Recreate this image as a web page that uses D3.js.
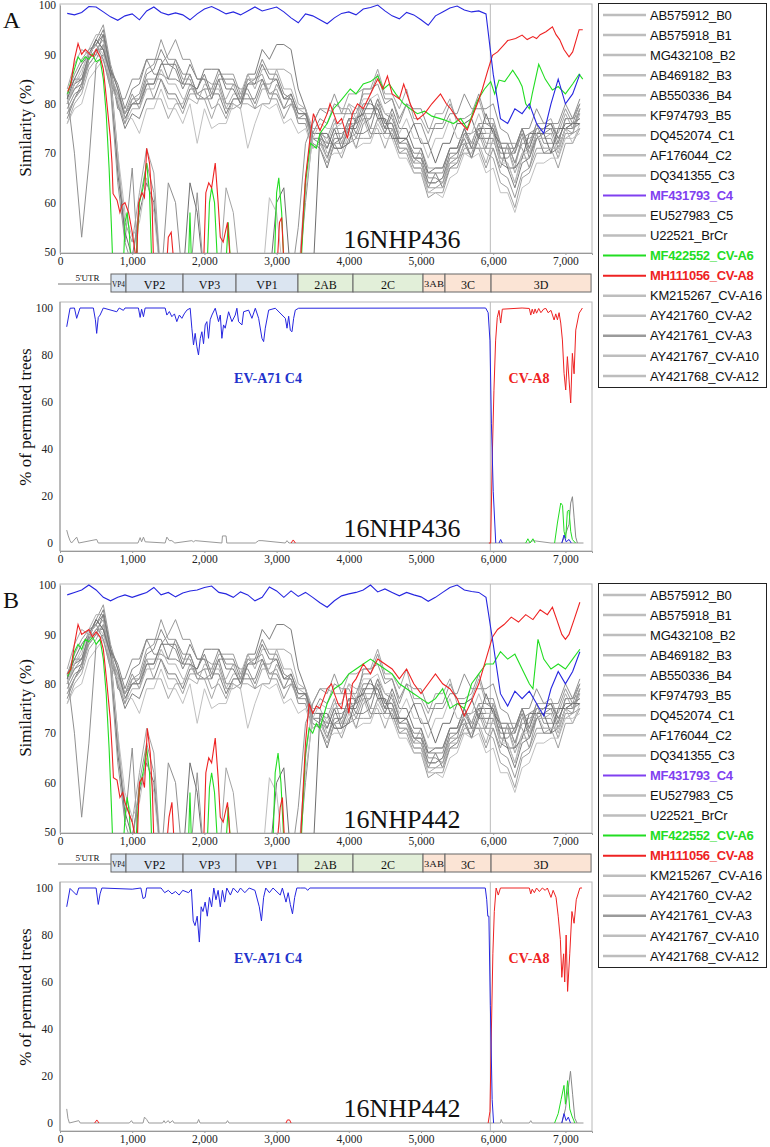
<!DOCTYPE html>
<html><head><meta charset="utf-8">
<script src="https://cdn.jsdelivr.net/npm/d3@7"></script>
<style>body{margin:0;background:#fff}</style>
</head><body>
<script>
// ---------------- DATA ----------------
const xTicks=[0,1000,2000,3000,4000,5000,6000,7000];
const simTicks=[50,60,70,80,90,100];
const bootTicks=[0,20,40,60,80,100];
const breakPos=5960;
const simPos=[100,200,300,400,500,600,700,800,900,1000,1100,1200,1300,1400,1500,1600,1700,1800,1900,2000,2100,2200,2300,2400,2500,2600,2700,2800,2900,3000,3100,3200,3300,3400,3500,3600,3700,3800,3900,4000,4100,4200,4300,4400,4500,4600,4700,4800,4900,5000,5100,5200,5300,5400,5500,5600,5700,5800,5900,6000,6100,6200,6300,6400,6500,6600,6700,6800,6900,7000,7100,7200];

const geneNames=['VP4','VP2','VP3','VP1','2AB','2C','3AB','3C','3D'];
const geneStart=[706,914,1704,2438,3296,4058,5028,5332,5970];
const geneEnd=[914,1704,2438,3296,4058,5028,5332,5970,7355];
const utrEnd=706;

const legendNames=['AB575912_B0','AB575918_B1','MG432108_B2','AB469182_B3','AB550336_B4','KF974793_B5','DQ452074_C1','AF176044_C2','DQ341355_C3','MF431793_C4','EU527983_C5','U22521_BrCr','MF422552_CV-A6','MH111056_CV-A8','KM215267_CV-A16','AY421760_CV-A2','AY421761_CV-A3','AY421767_CV-A10','AY421768_CV-A12'];

// gray similarity series (values at simPos)
const gB0=[80,83,84,89,93,91,87,79,78,80,81,86,87,91,88,87,83,86,82,81,81,85,80,80,79,84,85,89,86,86,82,81,77,78,73,73,69,74,74,75,76,80,80,79,75,75,71,71,67,67,63,66,66,71,71,75,72,76,76,75,69,69,71,75,70,74,75,76,72,77,77,78];
const gB1=[78,81,83,90,93,96,88,83,78,82,79,84,84,88,90,93,89,89,85,85,84,84,79,79,80,85,84,85,81,81,77,80,79,79,74,74,73,77,72,72,73,77,77,81,76,76,72,72,69,68,64,64,65,69,70,74,74,75,71,71,67,72,72,71,67,73,73,73,69,74,74,79];
const gB2=[82,85,85,88,90,94,87,80,75,78,77,81,81,85,82,82,79,83,83,86,82,82,78,81,81,86,86,91,89,92,92,91,83,79,72,71,67,72,73,77,77,78,74,74,74,78,73,73,69,69,66,66,63,67,68,72,69,73,73,73,68,67,63,68,69,74,70,70,71,75,75,76];
const gB3=[76,80,82,87,89,92,86,82,77,80,80,85,81,81,77,80,80,84,81,81,77,81,81,84,80,80,79,83,83,87,87,86,80,79,75,75,72,76,76,80,79,79,75,75,71,75,72,72,68,71,67,67,67,71,71,72,72,76,72,72,71,71,66,70,71,76,76,77,73,73,74,78];
const gB4=[79,82,83,89,91,91,84,81,81,85,85,89,86,86,85,89,86,86,82,83,83,87,84,84,83,83,80,84,84,85,81,81,76,76,71,72,71,75,75,75,71,76,77,81,78,77,73,73,70,70,65,65,64,68,69,74,71,71,71,76,72,72,68,72,72,76,72,72,72,77,77,80];
const gB5=[81,84,86,91,94,94,86,81,76,79,79,83,83,87,84,84,81,81,80,84,83,83,79,82,82,86,83,87,87,87,83,83,79,78,74,74,70,71,71,76,76,77,73,77,77,76,71,71,67,67,62,63,63,68,68,72,72,72,68,73,69,68,64,69,69,73,73,74,70,75,76,77];
const gC1=[77,81,84,90,92,95,87,84,79,83,84,89,89,89,85,85,84,88,85,85,81,85,85,85,81,81,81,85,82,82,79,82,78,78,73,72,69,73,73,77,74,74,75,80,76,76,72,73,69,69,64,64,65,70,70,73,69,74,74,74,70,70,70,74,69,73,74,75,71,75,75,79];
const gC2=[80,83,85,89,91,93,85,80,76,81,82,87,88,93,89,89,85,85,81,81,82,86,86,86,82,82,79,80,80,84,81,81,77,77,73,73,72,72,69,73,74,78,78,78,74,74,70,70,66,66,61,62,62,67,67,71,71,71,67,71,66,65,61,66,67,71,71,71,71,75,74,75];
const gC3=[78,81,83,88,90,92,85,82,78,81,81,85,85,85,81,81,78,82,82,83,79,80,77,81,81,85,85,86,82,83,79,80,77,77,72,71,68,72,72,76,73,73,73,77,74,74,70,71,68,68,63,63,64,69,69,70,70,74,70,69,64,63,59,65,66,70,70,71,67,72,72,75];
const gC5=[80,84,85,90,92,94,87,83,77,80,80,84,84,88,88,88,84,84,83,87,87,87,83,83,80,84,84,88,85,85,81,82,78,78,74,74,71,75,71,75,75,79,79,79,75,79,75,75,71,71,66,67,67,71,71,75,71,75,75,75,71,71,71,75,71,75,75,76,73,76,76,77];
const gBrCr=[76,79,80,85,87,89,83,81,77,77,74,79,79,83,79,79,76,80,72,79,75,76,76,80,79,71,76,80,79,80,76,77,74,75,71,72,69,70,70,74,71,72,72,76,73,73,69,69,66,66,62,62,61,65,66,70,69,70,66,67,62,62,58,63,64,68,68,69,69,73,73,74];
const gA16=[82,70,53,68,88,90,86,70,52,67,44,44,44,44,64,60,44,44,44,44,44,44,44,44,44,44,44,44,44,44,44,44,44,60,74,77,76,80,79,79,76,83,83,84,80,81,77,80,79,79,75,75,75,78,78,82,79,79,79,80,75,74,70,75,75,79,76,76,76,80,77,81];
const gA2=[83,88,91,90,90,89,84,68,56,52,62,71,66,44,44,44,44,44,44,44,44,44,63,58,44,44,44,44,44,44,44,44,44,65,76,79,79,78,78,82,82,83,83,87,82,82,79,83,77,77,74,78,78,81,76,76,77,81,76,76,71,71,67,73,73,74,74,74,74,78,75,79];
const gA3=[81,85,88,90,93,91,86,66,54,49,58,64,60,44,44,44,44,64,58,44,44,44,44,44,44,44,44,44,44,60,63,44,44,44,44,74,74,71,71,72,77,78,81,77,77,73,73,73,76,72,72,68,72,72,76,76,77,73,78,74,72,67,67,69,74,74,74,70,75,75,76,76];
const gA10=[80,84,87,90,92,90,85,70,58,53,56,65,58,44,44,44,44,44,44,44,44,44,44,44,44,44,44,44,61,58,44,44,44,62,73,76,75,75,76,80,77,81,81,82,78,78,74,77,73,73,69,73,73,77,73,73,74,78,74,74,68,68,64,70,70,74,71,71,71,75,72,76];
const gA12=[82,86,89,91,92,89,83,64,52,47,60,68,62,44,44,44,44,44,62,44,44,44,44,44,44,44,44,44,44,44,44,44,55,72,76,79,78,82,78,78,78,82,82,86,81,81,76,80,76,76,72,76,76,80,77,77,78,82,77,77,72,72,68,73,74,75,75,75,75,79,76,80];

// EV-A71 C4 similarity (values at simPos)
const blueSimA=[98.3,98.0,98.5,99.7,99.6,98.6,97.6,96.9,97.8,98.2,97.0,98.8,99.6,98.5,98.0,98.4,98.0,97.0,98.2,99.2,99.7,99.0,98.2,98.6,98.0,98.8,99.6,98.8,99.2,99.6,98.6,97.4,96.4,98.2,97.8,97.0,96.2,97.4,98.3,98.6,98.0,99.2,99.5,100,98.8,97.8,97.2,98.5,98.0,97.0,95.9,97.8,98.6,99.4,99.8,99.0,98.6,98.8,98.2,86.0,77.0,76.0,79.0,78.0,80.0,76.0,74.0,80.0,85.0,80.0,82.0,86.0];
const blueSimB=[98.0,98.5,99.0,100,99.0,97.5,96.8,97.5,98.0,97.5,98.0,98.5,99.5,98.0,98.5,97.6,98.4,98.8,99.0,99.5,99.8,98.5,98.2,97.5,98.6,98.0,96.8,97.5,99.6,98.8,97.5,98.8,97.7,98.5,97.5,96.4,95.5,96.8,97.8,98.2,98.5,99.0,100,98.6,99.2,98.5,97.8,98.5,98.0,97.6,96.7,97.5,98.5,99.5,100,99.0,98.7,98.5,97.5,88.0,78.0,75.5,78.5,77.0,78.5,76.0,73.5,79.0,82.5,80.0,82.5,86.5];

// CV-A8 and CV-A6 similarity ([position, %])
const redSimA=[[107,82.5],[150,84],[200,89],[250,92.2],[300,90],[350,91],[415,90],[460,89.6],[500,91],[555,89.6],[600,87],[650,80],[695,73.4],[720,68],[735,61.8],[790,60.5],[830,58],[860,59.5],[900,60],[950,58],[1000,54],[1040,50],[1060,48],[1090,60],[1135,62],[1170,61],[1200,71],[1240,68],[1275,60],[1295,48],[1480,48],[1500,53],[1540,54],[1575,48],[1990,48],[2020,62],[2060,64],[2100,63],[2150,68],[2190,60],[2220,53],[2260,52],[2320,56],[2360,48],[3010,48],[3040,56],[3070,57],[3100,48],[3330,48],[3400,65],[3470,74],[3510,78],[3560,76],[3600,74.6],[3700,78],[3740,80],[3840,76],[3900,77],[3980,73],[4050,78],[4120,80],[4200,79],[4300,82],[4400,85],[4470,83],[4535,85.6],[4600,82],[4700,81],[4760,84],[4850,80],[4950,76.8],[5050,78],[5150,80],[5270,82],[5350,80],[5410,79],[5500,77],[5640,74.7],[5700,77],[5780,80],[5850,83],[5920,86.5],[5990,89.8],[6060,90.5],[6170,92.3],[6200,92.8],[6310,93.2],[6400,93.9],[6470,93],[6550,93.6],[6600,93.2],[6650,94],[6730,94.6],[6820,95.6],[6870,94],[6920,93],[6980,91],[7050,89.5],[7100,90.5],[7150,93],[7190,95],[7240,95]];
const greenSimA=[[107,82],[150,84.5],[200,87],[250,89.5],[300,88.5],[350,89.5],[400,89],[450,90],[500,88.5],[555,89],[600,85],[640,78],[680,67],[710,56],[730,48],[880,48],[900,56],[930,58],[960,54],[980,48],[1050,48],[1100,60],[1150,63],[1200,68],[1240,62],[1270,48],[1780,48],[1800,58],[1820,48],[2040,48],[2070,60],[2100,63],[2140,60],[2180,48],[2300,48],[2330,56],[2360,48],[2970,48],[3000,62],[3030,65],[3070,58],[3100,48],[3340,48],[3400,64],[3470,72],[3550,71],[3600,74],[3700,76],[3790,79],[3880,80.5],[4020,83],[4100,82],[4200,84],[4300,84.5],[4400,85.6],[4480,83],[4560,84],[4650,82],[4760,80],[4850,79],[4950,78],[5050,78.5],[5150,77.5],[5310,76.8],[5450,76],[5550,77],[5640,75],[5780,80.6],[5880,83],[5965,84.5],[6020,82],[6080,84.8],[6160,84.5],[6270,86.8],[6350,85],[6400,83.5],[6450,80],[6500,79],[6540,82],[6630,88],[6720,85],[6820,82.8],[6900,83.5],[7000,82],[7100,84],[7190,86],[7240,85]];
const redSimB=[[107,82],[150,83],[200,88],[250,92],[300,90],[350,90.5],[400,91],[450,89.5],[500,90.5],[555,89.5],[600,87],[650,80],[695,73],[720,67],[740,61],[790,60.5],[830,57],[870,58],[900,56],[950,54],[1000,52],[1040,49],[1070,48],[1100,60],[1140,61],[1170,59],[1210,71],[1250,66],[1280,58],[1300,48],[1480,48],[1510,53],[1550,56],[1580,48],[1990,48],[2020,62],[2060,65],[2100,64],[2150,69],[2190,61],[2220,53],[2260,52],[2320,56],[2360,48],[3010,48],[3050,55],[3080,57],[3110,48],[3330,48],[3400,68],[3450,76],[3500,74],[3550,75.5],[3600,75],[3650,77],[3700,79],[3760,80],[3800,78],[3850,76],[3900,75],[3950,79],[4000,74],[4050,80],[4100,81],[4200,84],[4250,83],[4300,82],[4400,85],[4450,84.5],[4500,84],[4600,83],[4700,81],[4800,83],[4900,80],[5000,78],[5100,80],[5200,82],[5300,80],[5400,79],[5500,77],[5600,73.5],[5700,76.5],[5800,80],[5900,85],[5990,89.5],[6060,91],[6150,92],[6250,93.5],[6350,92.5],[6450,94],[6550,93],[6650,95],[6750,94],[6820,95.5],[6880,93],[6950,90],[7000,89],[7050,90],[7120,93],[7200,96.5]];
const greenSimB=[[107,81.5],[150,83],[200,86.5],[250,88],[300,87],[350,89],[400,88.5],[450,89.5],[500,88],[555,89],[600,85],[640,78],[680,67],[710,56],[730,48],[880,48],[900,53],[930,57],[960,54],[980,48],[1050,48],[1100,59],[1150,62],[1200,67],[1240,62],[1270,48],[1780,48],[1800,58],[1820,48],[2040,48],[2070,59],[2100,62],[2140,58],[2180,48],[2300,48],[2330,55],[2360,48],[2950,48],[2980,62],[3020,66],[3060,60],[3100,48],[3340,48],[3400,66],[3450,71],[3500,70],[3550,72],[3600,71],[3700,76],[3800,79],[3900,80],[4000,82],[4100,83],[4200,84],[4300,85],[4400,84],[4500,83],[4600,82],[4700,80],[4800,79],[4900,78],[5000,77],[5100,76],[5200,77],[5300,79],[5400,75],[5500,76],[5600,75],[5700,80],[5800,82],[5900,84],[6000,84],[6100,86.5],[6200,85],[6300,86],[6400,83],[6500,80],[6550,79],[6620,89],[6700,85],[6800,83],[6900,84],[7000,83],[7100,85],[7200,87]];

// Bootscan series ([position, % of permuted trees]; null = gap)
const bootBlueA=[[93,92],[139,99.9],[200,100],[231,95.6],[277,100],[462,100],[490,95],[508,89.2],[530,96],[555,97],[600,100],[786,98.4],[820,100],[878,99],[900,100],[1086,100],[1110,96],[1130,99.5],[1156,96.3],[1179,100],[1456,100],[1480,97],[1515,98.5],[1549,96.3],[1585,97.5],[1618,94.2],[1653,97],[1688,95.6],[1720,97.5],[1757,99.1],[1803,99.9],[1826,91.4],[1849,84.3],[1872,89.2],[1896,83.5],[1918,80],[1942,87],[1965,89.9],[1988,84.8],[2011,92.8],[2034,94.2],[2057,87.1],[2080,95],[2104,97],[2150,99.9],[2196,94.2],[2220,97],[2242,87.1],[2265,92.8],[2288,91.4],[2335,98.4],[2381,94.2],[2427,97],[2450,99.9],[2473,94.2],[2520,92.8],[2543,98.4],[2612,99.1],[2658,95.6],[2705,99.9],[2751,95.6],[2797,87.1],[2820,85.7],[2843,91.4],[2890,99.1],[2982,99.9],[3121,95.6],[3144,91.4],[3167,96.5],[3190,90.5],[3213,89.9],[3236,95.6],[3259,99.1],[3305,99.9],[5895,100],[5930,98],[5955,86],[5975,51],[6000,22],[6035,0],[6035,null],[6080,0],[6103,1.5],[6126,0],[6126,null],[6950,0],[6981,3.4],[7010,0.5],[7050,1.5],[7080,0]];
const bootRedA=[[3200,0],[3230,1.3],[3260,0],[3260,null],[5940,0],[5965,0],[5987,37],[6010,65],[6033,86],[6056,96],[6080,99],[6103,93.6],[6126,99.5],[6400,100],[6500,99.8],[6520,97],[6540,99.5],[6560,97.5],[6580,99.6],[6600,97.8],[6630,99.8],[6660,98],[6700,99.6],[6730,99.8],[6760,98],[6800,99],[6843,94.9],[6866,97.5],[6889,95],[6912,98],[6935,93.6],[6958,86.4],[6981,72.2],[7004,65.1],[7027,79.3],[7050,69.4],[7073,59.6],[7096,80.7],[7120,72],[7143,90.6],[7190,97.8],[7235,100]];
const bootGreenA=[[6450,0],[6480,1.8],[6510,0],[6550,1.8],[6580,0],[6580,null],[6850,0],[6889,8.5],[6935,17],[6960,16],[6981,5],[7004,2],[7027,13.5],[7050,14],[7073,5],[7096,1.5],[7140,0]];
const bootGrayA=[[6950,0],[7004,4],[7050,8],[7073,17],[7097,19.7],[7120,11],[7143,2.5],[7166,0]];
const bootBaseA=[[93,5.5],[115,3],[139,1],[160,0],[231,2.5],[260,0],[508,1.5],[530,0],[1080,0],[1110,2.3],[1130,0.5],[1156,2.5],[1180,0.5],[1456,0],[1480,2.5],[1515,1],[1549,1],[1590,0],[1826,1],[1849,0.5],[1872,1],[2242,0],[2250,3],[2300,3],[2310,0],[2705,0],[2751,1],[2797,1],[3120,0],[3144,1],[3170,0],[6500,0],[6550,1],[6800,0],[7250,0]];
const bootBlueB=[[93,92],[139,99.8],[230,97],[260,100],[500,100],[530,93],[555,97.5],[580,100],[1000,99.5],[1120,100],[1150,95.5],[1180,96],[1200,100],[1400,100],[1450,98],[1500,99],[1550,97.5],[1600,98.5],[1650,97],[1700,99],[1780,98],[1820,99.5],[1845,86],[1870,84],[1900,88],[1930,77],[1955,92],[1980,90],[2010,94],[2040,88],[2070,96],[2100,92],[2130,100],[2160,95],[2190,99],[2220,92],[2250,99],[2280,94],[2310,100],[2360,97],[2400,100],[2460,98],[2500,100],[2560,98],[2620,100],[2700,99],[2760,92],[2790,86],[2820,96],[2850,100],[2900,98],[2950,100],[3050,97],[3080,100],[3130,94],[3160,98],[3190,93],[3220,89],[3250,96],[3280,100],[3330,100],[3400,100],[3430,99],[3460,100],[5890,100],[5910,95],[5925,88],[5940,88],[5960,50],[5985,10],[6005,0],[6005,null],[6950,0],[6980,4],[7010,1],[7040,2.5],[7070,0]];
const bootRedB=[[480,0],[510,1.3],[540,0],[540,null],[3130,0],[3150,1.3],[3180,1.3],[3200,0],[3200,null],[5930,0],[5955,5],[5975,40],[5995,72],[6015,90],[6040,100],[6070,97],[6100,100],[6500,100],[6520,97.5],[6540,99.5],[6570,98],[6600,100],[6640,98.5],[6680,100],[6720,99],[6750,100],[6800,96],[6830,99],[6870,96],[6900,88],[6930,78],[6950,62],[6975,72],[6990,60],[7010,80],[7030,56],[7060,72],[7090,90],[7120,85],[7150,95],[7200,100],[7230,100]];
const bootGreenB=[[6850,0],[6900,4],[6940,10],[6980,16],[7000,8],[7030,18],[7060,6],[7090,3],[7130,0]];
const bootGrayB=[[6950,0],[7000,6],[7040,15],[7070,22],[7100,12],[7130,2],[7160,0]];
const bootBaseB=[[93,6],[110,2],[130,0],[260,1],[280,0],[960,0],[990,1],[1010,0],[1150,0],[1170,2.5],[1200,1.5],[1230,0],[1420,0],[1440,1],[1460,0],[1500,1],[1520,0],[1560,1],[1580,0],[1900,0],[1920,1.5],[1940,0],[2300,0],[2320,1],[2340,0],[6100,0],[6110,1.5],[6130,0],[6500,0],[6520,1],[6540,0],[7250,0]];

// ---------------- STYLE ----------------
const grays=[gB0,gB1,gB2,gB3,gB4,gB5,gC1,gC2,gC3,gC5,gBrCr,gA16,gA2,gA3,gA10,gA12];
const grayColors=['#8a8a8a','#999','#7d7d7d','#a8a8a8','#8f8f8f','#b0b0b0','#858585','#9a9a9a','#a0a0a0','#7a7a7a','#c0c0c0','#909090','#a5a5a5','#6f6f6f','#bdbdbd','#959595'];
const BLUE='#2626e0',RED='#ee2222',GREEN='#22dd22',PURPLE='#8040f0';
const SERIF='"Liberation Serif","Times New Roman",serif';
const SANS='"Liberation Sans",Arial,sans-serif';

const W=770,H=1147;
const svg=d3.select('body').append('svg').attr('width',W).attr('height',H).style('background','#fff');
const x=d3.scaleLinear().domain([0,7368]).range([60,592]);

function drawPanel(oy, id, letter, label, blueSim, redSim, greenSim, bBlue, bRed, bGreen, bGray, bBase){
  const g=svg.append('g').attr('transform',`translate(0,${oy})`);
  const defs=g.append('defs');
  // ---------- similarity plot ----------
  const yS=d3.scaleLinear().domain([50,100]).range([252,5]);
  defs.append('clipPath').attr('id','cs'+id).append('rect').attr('x',60).attr('y',4).attr('width',532).attr('height',249);
  g.append('rect').attr('x',60).attr('y',4).attr('width',532).attr('height',249).attr('fill','none').attr('stroke','#b8b8b8');
  g.append('line').attr('x1',x(breakPos)).attr('x2',x(breakPos)).attr('y1',4).attr('y2',253).attr('stroke','#bbb');
  const lc=g.append('g').attr('clip-path',`url(#cs${id})`);
  const lineV=d3.line().x((d,i)=>x(simPos[i])).y(d=>yS(d));
  const lineP=d3.line().x(d=>x(d[0])).y(d=>yS(d[1]));
  grays.forEach((s,i)=>lc.append('path').attr('d',lineV(s)).attr('fill','none').attr('stroke',grayColors[i]).attr('stroke-width',1));
  lc.append('path').attr('d',lineP(greenSim)).attr('fill','none').attr('stroke',GREEN).attr('stroke-width',1.1);
  lc.append('path').attr('d',lineP(redSim)).attr('fill','none').attr('stroke',RED).attr('stroke-width',1.1);
  lc.append('path').attr('d',lineV(blueSim)).attr('fill','none').attr('stroke',BLUE).attr('stroke-width',1.1);
  const ax=g.append('g').attr('transform','translate(0,253)').call(d3.axisBottom(x).tickValues(xTicks).tickFormat(d3.format(',')).tickSize(2).tickPadding(2));
  const ay=g.append('g').attr('transform','translate(60,0)').call(d3.axisLeft(yS).tickValues(simTicks).tickSize(0).tickPadding(4));
  [ax,ay].forEach(a=>{a.select('.domain').attr('stroke','#999');a.selectAll('line').attr('stroke','#999');a.selectAll('text').attr('font-family',SERIF).attr('font-size',11.5).attr('fill','#222');});
  g.append('text').attr('transform','translate(31,128) rotate(-90)').attr('text-anchor','middle').attr('font-family',SERIF).attr('font-size',17).attr('fill','#111').text('Similarity (%)');
  g.append('text').attr('x',402).attr('y',248).attr('text-anchor','middle').attr('font-family',SERIF).attr('font-size',26).attr('fill','#111').text(label);
  g.append('text').attr('x',3).attr('y',28).attr('font-family',SERIF).attr('font-size',24).attr('fill','#111').text(letter);

  // ---------- genome map ----------
  g.append('line').attr('x1',x(0)-2).attr('x2',x(utrEnd)).attr('y1',284).attr('y2',284).attr('stroke','#777');
  g.append('text').attr('x',(x(0)+x(utrEnd))/2+2).attr('y',281).attr('text-anchor','middle').attr('font-family',SERIF).attr('font-size',9).attr('fill','#111').text("5'UTR");
  geneNames.forEach((n,i)=>{
    const fill=n.startsWith('VP')?'#dbe5f1':(n.startsWith('2')?'#e2efd9':'#fbe4d5');
    const x0=x(geneStart[i]),x1=x(geneEnd[i]);
    g.append('rect').attr('x',x0).attr('y',274).attr('width',x1-x0).attr('height',18).attr('fill',fill).attr('stroke','#666').attr('stroke-width',1);
    const small=(n==='VP4'||n==='3AB');
    const t=g.append('text').attr('x',(x0+x1)/2).attr('y',small?287:288.5).attr('text-anchor','middle').attr('font-family',SERIF).attr('font-size',small?9:12).attr('fill','#111').text(n);
    if(small){t.attr('textLength',x1-x0-2).attr('lengthAdjust','spacingAndGlyphs');}
  });

  // ---------- bootscan plot ----------
  const yB=d3.scaleLinear().domain([0,100]).range([543,308]);
  defs.append('clipPath').attr('id','cb'+id).append('rect').attr('x',60).attr('y',302).attr('width',532).attr('height',249);
  g.append('rect').attr('x',60).attr('y',302).attr('width',532).attr('height',249).attr('fill','none').attr('stroke','#b8b8b8');
  g.append('line').attr('x1',x(breakPos)).attr('x2',x(breakPos)).attr('y1',302).attr('y2',551).attr('stroke','#bbb');
  const bc=g.append('g').attr('clip-path',`url(#cb${id})`);
  const lineB=d3.line().defined(d=>d[1]!==null).x(d=>x(d[0])).y(d=>yB(d[1]));
  bc.append('path').attr('d',lineB(bBase)).attr('fill','none').attr('stroke','#999').attr('stroke-width',1);
  bc.append('path').attr('d',lineB(bGray)).attr('fill','none').attr('stroke','#888').attr('stroke-width',1);
  bc.append('path').attr('d',lineB(bGreen)).attr('fill','none').attr('stroke',GREEN).attr('stroke-width',1);
  bc.append('path').attr('d',lineB(bRed)).attr('fill','none').attr('stroke',RED).attr('stroke-width',1);
  bc.append('path').attr('d',lineB(bBlue)).attr('fill','none').attr('stroke',BLUE).attr('stroke-width',1);
  const bx=g.append('g').attr('transform','translate(0,551)').call(d3.axisBottom(x).tickValues(xTicks).tickFormat(d3.format(',')).tickSize(2).tickPadding(2));
  const by=g.append('g').attr('transform','translate(60,0)').call(d3.axisLeft(yB).tickValues(bootTicks).tickSize(0).tickPadding(7));
  [bx,by].forEach(a=>{a.select('.domain').attr('stroke','#999');a.selectAll('line').attr('stroke','#999');a.selectAll('text').attr('font-family',SERIF).attr('font-size',11.5).attr('fill','#222');});
  by.select('.domain').attr('d','M0,302V551');
  g.append('text').attr('transform','translate(31,417) rotate(-90)').attr('text-anchor','middle').attr('font-family',SERIF).attr('font-size',17).attr('fill','#111').text('% of permuted trees');
  g.append('text').attr('x',402).attr('y',537).attr('text-anchor','middle').attr('font-family',SERIF).attr('font-size',26).attr('fill','#111').text(label);
  g.append('text').attr('x',268).attr('y',383).attr('text-anchor','middle').attr('font-family',SERIF).attr('font-weight','bold').attr('font-size',14).attr('fill','#2233cc').text('EV-A71 C4');
  g.append('text').attr('x',529).attr('y',383).attr('text-anchor','middle').attr('font-family',SERIF).attr('font-weight','bold').attr('font-size',14).attr('fill',RED).text('CV-A8');

  // ---------- legend ----------
  g.append('rect').attr('x',598.5).attr('y',3.5).attr('width',168).attr('height',384).attr('fill','#fff').attr('stroke','#222').attr('stroke-width',1);
  legendNames.forEach((n,i)=>{
    const yy=15+i*20.05;
    let col='#bdbdbd',tcol='#111',bold=false,sw=2.5;
    if(n.endsWith('_C4')){col=PURPLE;tcol=PURPLE;bold=true;sw=2;}
    else if(n.endsWith('CV-A6')){col=GREEN;tcol=GREEN;bold=true;sw=2;}
    else if(n.endsWith('CV-A8')){col=RED;tcol=RED;bold=true;sw=2;}
    else if(n.endsWith('CV-A3')){col='#9a9a9a';}
    g.append('line').attr('x1',603).attr('x2',646).attr('y1',yy).attr('y2',yy).attr('stroke',col).attr('stroke-width',sw);
    g.append('text').attr('x',650).attr('y',yy).attr('dy','0.36em').attr('font-family',SANS).attr('font-size',13).attr('font-weight',bold?'bold':'normal').attr('fill',tcol).attr('letter-spacing',bold?-0.3:-0.2).text(n);
  });
}

drawPanel(0,'A','A','16NHP436',blueSimA,redSimA,greenSimA,bootBlueA,bootRedA,bootGreenA,bootGrayA,bootBaseA);
drawPanel(580,'B','B','16NHP442',blueSimB,redSimB,greenSimB,bootBlueB,bootRedB,bootGreenB,bootGrayB,bootBaseB);
</script>
</body></html>
